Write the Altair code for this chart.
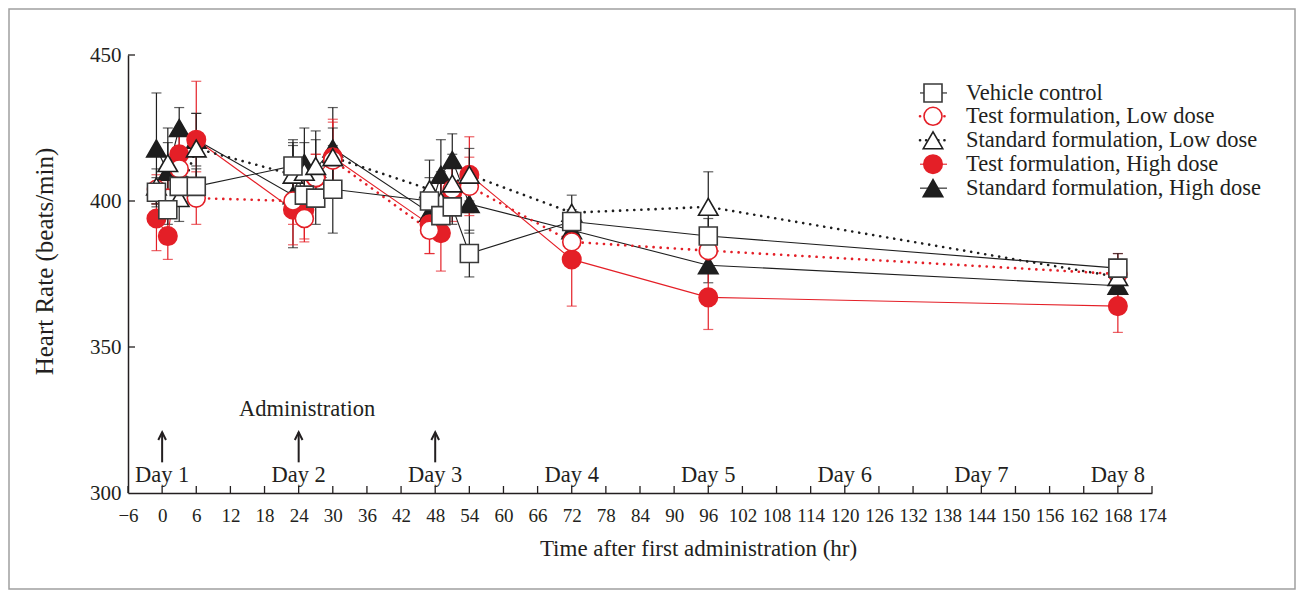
import altair as alt
import pandas as pd

# ---------------- data ----------------
hours = [-1, 1, 3, 6, 23, 25, 27, 30, 47, 49, 51, 54, 72, 96, 168]

vehicle    = [403, 397, 405, 405, 412, 402, 401, 404, 400, 395, 398, 382, 393, 388, 377]
vehicle_sd = [5, 5, 5, 6, 9, 8, 9, 15, 8, 6, 6, 8, 4, 6, 5]

test_low    = [404, 401, 411, 401, 400, 394, 408, 414, 390, 398, 404, 405, 386, 383, 375]
test_low_sd = [5, 6, 6, 9, 8, 8, 8, 13, 8, 8, 8, 10, 5, 6, 7]

std_low    = [405, 413, 401, 418, 409, 410, 412, 415, 404, 400, 406, 409, 396, 398, 374]
std_low_sd = [6, 12, 8, 12, 10, 10, 12, 10, 10, 10, 10, 9, 6, 12, 6]

test_high    = [394, 388, 416, 421, 397, 397, 408, 415, 392, 389, 403, 409, 380, 367, 364]
test_high_sd = [11, 8, 8, 20, 12, 10, 8, 13, 10, 13, 10, 13, 16, 11, 9]

std_high    = [418, 410, 425, 421, 402, 413, 411, 418, 396, 409, 414, 399, 390, 378, 371]
std_high_sd = [19, 10, 7, 9, 18, 12, 10, 14, 8, 12, 9, 10, 6, 6, 5]

x_ticks = list(range(-6, 175, 6))
y_ticks = [300, 350, 400, 450]

day_hours  = [0, 24, 48, 72, 96, 120, 144, 168]
day_labels = ["Day 1", "Day 2", "Day 3", "Day 4", "Day 5", "Day 6", "Day 7", "Day 8"]
admin_hours = [0, 24, 48]

legend_labels = ["Vehicle control", "Test formulation, Low dose",
                 "Standard formulation, Low dose", "Test formulation, High dose",
                 "Standard formulation, High dose"]

# ---------------- styling ----------------
RED = "#e41f27"
BLACK = "#1e1e1e"
INK = "#231f20"
FONT = "Liberation Serif"
DOT = [0.1, 7]

styles = {
    "Vehicle control": dict(color=BLACK, dash=None, lw=1.1, shape="square", filled=False,
                            fill="white", stroke="#3a3a3a", size=324),
    "Test formulation, Low dose": dict(color=RED, dash=DOT, lw=2.6, shape="circle", filled=False,
                                       fill="white", stroke=RED, size=324),
    "Standard formulation, Low dose": dict(color=BLACK, dash=DOT, lw=2.6, shape="triangle-up", filled=False,
                                           fill="white", stroke=BLACK, size=380),
    "Test formulation, High dose": dict(color=RED, dash=None, lw=1.1, shape="circle", filled=True,
                                        fill=RED, stroke=RED, size=340),
    "Standard formulation, High dose": dict(color=BLACK, dash=None, lw=1.1, shape="triangle-up", filled=True,
                                            fill=BLACK, stroke=BLACK, size=380),
}

values = {
    "Vehicle control": (vehicle, vehicle_sd),
    "Test formulation, Low dose": (test_low, test_low_sd),
    "Standard formulation, Low dose": (std_low, std_low_sd),
    "Test formulation, High dose": (test_high, test_high_sd),
    "Standard formulation, High dose": (std_high, std_high_sd),
}

draw_order = ["Standard formulation, High dose", "Test formulation, High dose",
              "Test formulation, Low dose", "Standard formulation, Low dose", "Vehicle control"]

W, H = 1024, 438

xs = alt.Scale(domain=[-6, 174], nice=False, zero=False)
ys = alt.Scale(domain=[300, 450], nice=False, zero=False)

x_axis = alt.Axis(values=x_ticks, title="Time after first administration (hr)", grid=False,
                  tickSize=0, labelPadding=13, titlePadding=12, domainColor=INK, domainWidth=1.5,
                  labelFlush=False, labelOverlap=False, labelFontSize=19,
                  titleFontSize=23, titleX=570)
y_axis = alt.Axis(values=y_ticks, title="Heart Rate (beats/min)", grid=False, tickSize=0,
                  labelPadding=7, titlePadding=32, domainColor=INK, domainWidth=1.5,
                  labelFontSize=21, titleFontSize=25, titleY=206)


def X(field):
    return alt.X(f"{field}:Q", scale=xs, axis=x_axis)


def Y(field):
    return alt.Y(f"{field}:Q", scale=ys, axis=y_axis)


def series_df(name):
    v, sd = values[name]
    return pd.DataFrame({"hr": hours, "v": v,
                         "lo": [a - b for a, b in zip(v, sd)],
                         "hi": [a + b for a, b in zip(v, sd)]})


layers = []

# outer frame
frame = alt.Chart(pd.DataFrame({"k": [0]})).mark_rect(fill=None, stroke="#a0a0a0", strokeWidth=1.5).encode(
    x=alt.value(-119), x2=alt.value(1167), y=alt.value(-46), y2=alt.value(534))
layers.append(frame)

# error bars
for name in draw_order:
    st = styles[name]
    df = series_df(name)
    base = alt.Chart(df)
    layers.append(base.mark_rule(color=st["color"], strokeWidth=1.2).encode(x=X("hr"), y=Y("lo"), y2="hi"))
    layers.append(base.mark_tick(orient="horizontal", size=10, thickness=1.2, color=st["color"]).encode(
        x=X("hr"), y=Y("lo")))
    layers.append(base.mark_tick(orient="horizontal", size=10, thickness=1.2, color=st["color"]).encode(
        x=X("hr"), y=Y("hi")))

# lines
for name in draw_order:
    st = styles[name]
    kw = dict(color=st["color"], strokeWidth=st["lw"])
    if st["dash"]:
        kw.update(strokeDash=st["dash"], strokeCap="round")
    layers.append(alt.Chart(series_df(name)).mark_line(**kw).encode(x=X("hr"), y=Y("v")))

# points
for name in draw_order:
    st = styles[name]
    layers.append(alt.Chart(series_df(name)).mark_point(
        shape=st["shape"], size=st["size"], filled=st["filled"], fill=st["fill"],
        stroke=st["stroke"], strokeWidth=1.6, opacity=1, fillOpacity=1).encode(x=X("hr"), y=Y("v")))

# inward axis ticks
layers.append(alt.Chart(pd.DataFrame({"hr": x_ticks})).mark_rule(color=INK, strokeWidth=1.3).encode(
    x=X("hr"), y=alt.value(H), y2=alt.value(H - 7)))
layers.append(alt.Chart(pd.DataFrame({"v": y_ticks[1:]})).mark_rule(color=INK, strokeWidth=1.3).encode(
    y=Y("v"), x=alt.value(0), x2=alt.value(7)))

# day labels
day_df = pd.DataFrame({"hr": day_hours, "v": [306.2] * len(day_hours), "t": day_labels})
layers.append(alt.Chart(day_df).mark_text(font=FONT, fontSize=22.5, color=INK, baseline="middle").encode(
    x=X("hr"), y=Y("v"), text="t:N"))

# administration arrows
arr_df = pd.DataFrame({"hr": admin_hours, "lo": [310.5] * 3, "hi": [320.8] * 3})
layers.append(alt.Chart(arr_df).mark_rule(color=INK, strokeWidth=2).encode(x=X("hr"), y=Y("lo"), y2="hi"))
layers.append(alt.Chart(arr_df).mark_point(shape="M-0.55,1.1L0,0L0.55,1.1", size=196, filled=False,
                                           stroke=INK, strokeWidth=2, opacity=1).encode(x=X("hr"), y=Y("hi")))
layers.append(alt.Chart(pd.DataFrame({"hr": [25.5], "v": [328.8], "t": ["Administration"]})).mark_text(
    font=FONT, fontSize=22.5, color=INK, baseline="middle").encode(x=X("hr"), y=Y("v"), text="t:N"))

# legend
leg_y = [437.0, 429.0, 420.8, 412.6, 404.4]
for i, name in enumerate(legend_labels):
    st = styles[name]
    ldf = pd.DataFrame({"v": [leg_y[i]], "t": [name]})
    kw = dict(color=st["color"], strokeWidth=st["lw"] if not st["dash"] else 2.6)
    if st["dash"]:
        kw.update(strokeDash=[0.1, 6], strokeCap="round")
    layers.append(alt.Chart(ldf).mark_rule(**kw).encode(x=alt.value(792), x2=alt.value(819), y=Y("v")))
    layers.append(alt.Chart(ldf).mark_point(
        shape=st["shape"], size=st["size"], filled=st["filled"], fill=st["fill"],
        stroke=st["stroke"], strokeWidth=1.6, opacity=1).encode(x=alt.value(805), y=Y("v")))
    layers.append(alt.Chart(ldf).mark_text(font=FONT, fontSize=22.5, color=INK, align="left",
                                           baseline="middle").encode(x=alt.value(838), y=Y("v"), text="t:N"))

chart = alt.layer(*layers).properties(
    width=W, height=H,
    autosize=alt.AutoSizeParams(type="none"),
    padding={"left": 120, "top": 47, "right": 144, "bottom": 99},
).configure_view(stroke=None).configure_axis(
    labelFont=FONT, titleFont=FONT,
    labelColor=INK, titleColor=INK, titleFontWeight="normal",
)

chart.save("out.html", embed_options={"renderer": "svg", "actions": False})
